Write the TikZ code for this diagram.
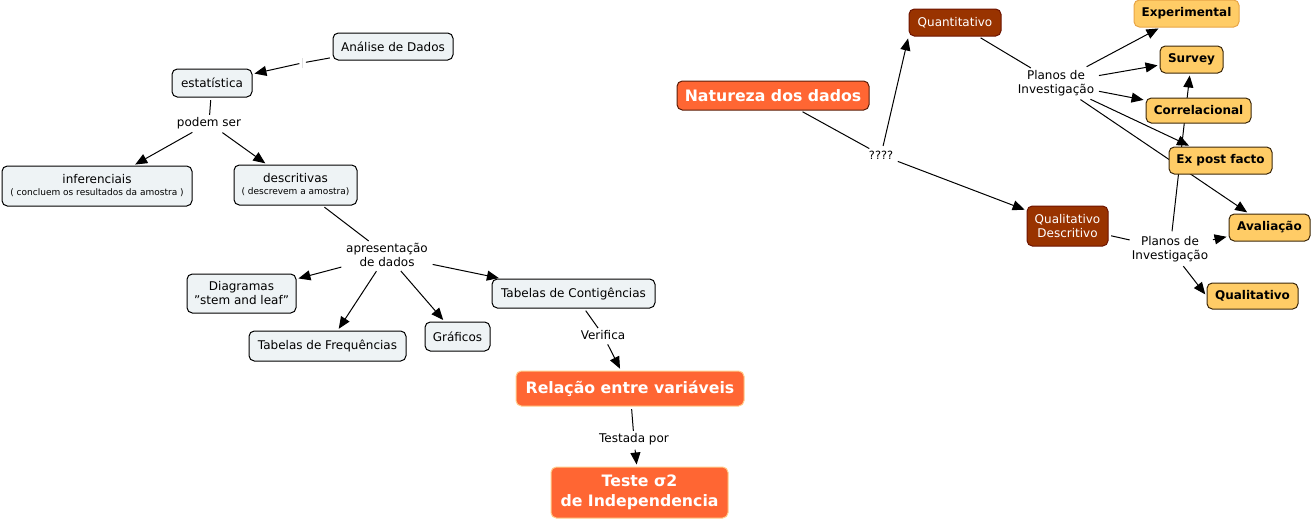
\documentclass[tikz,border=0pt]{standalone}
\usepackage{fontspec}
\setmainfont{DejaVu Sans}
\usetikzlibrary{arrows.meta}
\definecolor{lightc}{RGB}{238,243,245}
\definecolor{orng}{RGB}{255,102,51}
\definecolor{orngb}{RGB}{255,204,140}
\definecolor{natb}{RGB}{90,30,10}
\definecolor{brwn}{RGB}{153,51,0}
\definecolor{brwnb}{RGB}{110,20,0}
\definecolor{yel}{RGB}{255,204,102}
\definecolor{yelb}{RGB}{60,40,10}
\definecolor{expb}{RGB}{232,165,70}
\newcommand\myfs[2]{\fontsize{#1}{#2}\selectfont}
\pgfdeclarelayer{bg}\pgfsetlayers{bg,main}
\begin{document}
\begin{tikzpicture}[x=0.75pt,y=-0.75pt,
  box/.style={rounded corners=4pt, inner sep=0pt, line width=0.75pt, align=center},
  light/.style={box, draw=black, fill=lightc, font=\myfs{9}{10.5}},
  hot/.style={box, draw=orngb, fill=orng, text=white, font=\bfseries\myfs{11.8}{15}},
  dark/.style={box, draw=brwnb, fill=brwn, text=white, font=\myfs{9}{10.5}},
  gold/.style={box, draw=yelb, fill=yel, font=\bfseries\myfs{9}{10.5}},
  lbl/.style={inner sep=1.5pt, align=center, font=\myfs{9}{10.5}},
  conn/.style={line width=0.75pt, shorten <=2pt},
  arr/.style={conn, -{Triangle[length=9pt,width=7.5pt]}, shorten >=1.5pt}]
\useasboundingbox (0,0) rectangle (1312,521);

% left part
\node[light, minimum width=90pt, minimum height=20.25pt] (ana) at (393,46.5) {Análise de Dados};
\node[light, minimum width=60pt, minimum height=21pt] (est) at (212,83) {estatística};
\coordinate (ad) at (302,63);
\node[lbl] (pod) at (209,123) {podem ser};
\node[light, minimum width=142.5pt, minimum height=30pt] (inf) at (97,186) {inferenciais\\[-1.5pt]{\myfs{6.75}{8}( concluem os resultados da amostra )}};
\node[light, minimum width=92.25pt, minimum height=30pt] (des) at (295.5,185) {descritivas\\[-1.5pt]{\myfs{6.75}{8}( descrevem a amostra)}};
\node[lbl] (apr) at (387,255) {apresentação\\de dados};
\node[light, minimum width=81.75pt, minimum height=29.25pt] (dia) at (241.5,293.5) {Diagramas\\\symbol{34}stem and leaf\symbol{34}};
\node[light, minimum width=117.75pt, minimum height=22.5pt] (tfr) at (327.5,346) {Tabelas de Frequências};
\node[light, minimum width=48.75pt, minimum height=21.75pt] (gra) at (457.5,336.5) {Gráficos};
\node[light, minimum width=122.25pt, minimum height=21.75pt] (tco) at (573.5,293.5) {Tabelas de Contigências};
\node[lbl] (ver) at (603,335) {Verifica};
\node[hot, minimum width=171pt, minimum height=26.25pt] (rel) at (630,388.5) {Relação entre variáveis};
\node[lbl] (tes) at (634,439) {Testada por};
\node[hot, minimum width=132.75pt, minimum height=38.25pt] (ind) at (639.5,492.5) {Teste σ2\\de Independencia};

% right part
\node[hot, draw=natb, minimum width=144pt, minimum height=21.75pt] (nat) at (773,95.5) {Natureza dos dados};
\node[dark, minimum width=69pt, minimum height=20.25pt] (qua) at (955,22.5) {Quantitativo};
\node[lbl, font=\myfs{8.5}{10}] (q4) at (881,155) {????};
\node[dark, minimum width=60.75pt, minimum height=30pt] (qde) at (1067.5,226) {Qualitativo\\Descritivo};
\node[lbl] (pl1) at (1056,83) {Planos de\\Investigação};
\node[gold, draw=expb, minimum width=78.75pt, minimum height=20.25pt] (exp) at (1186.5,13.5) {Experimental};
\node[gold, minimum width=47.25pt, minimum height=20.25pt] (sur) at (1191.5,59.5) {Survey};
\node[gold, minimum width=78.75pt, minimum height=18.75pt] (cor) at (1198.5,110.5) {Correlacional};
\node[gold, minimum width=77.25pt, minimum height=20.25pt] (epf) at (1220.5,160.5) {Ex post facto};
\node[gold, minimum width=60.75pt, minimum height=20.25pt] (ava) at (1269.5,227.5) {Avaliação};
\node[lbl] (pl2) at (1170,249) {Planos de\\Investigação};
\node[gold, minimum width=68.25pt, minimum height=19.5pt] (qlt) at (1252.5,296) {Qualitativo};

\begin{pgfonlayer}{bg}
% left connectors
\draw[conn, shorten >=3pt] (ana) -- (ad);
\draw[gray!25, line width=0.6pt] ([yshift=-4pt]ad) -- ([yshift=4pt]ad);
\draw[arr, shorten <=2pt] (ad) -- (est);
\draw[conn] (est) -- (pod);
\draw[arr] (pod) -- (inf);
\draw[arr] (pod) -- (des);
\draw[conn] (des) -- (apr);
\draw[arr] (apr) -- (dia);
\draw[arr] (apr) -- (tfr);
\draw[arr] (apr) -- (gra);
\draw[arr] (apr) -- (tco);
\draw[conn] (tco) -- (ver);
\draw[arr] (ver) -- (rel);
\draw[conn] (rel) -- (tes);
\draw[arr] (tes) -- (ind);
% right connectors
\draw[conn] (nat) -- (q4);
\draw[arr] (q4) -- (qua.south west);
\draw[arr] (q4) -- (qde);
\draw[conn] (qua) -- (pl1);
\draw[arr] (pl1) -- (exp);
\draw[arr] (pl1) -- (sur);
\draw[arr] (pl1) -- (cor);
\draw[arr] (pl1) -- (epf);
\draw[arr] (pl1) -- (ava);
\draw[conn] (qde) -- (pl2);
\draw[arr] (pl2) -- (ava);
\draw[arr] (pl2) -- (qlt.west);
\draw[arr] (pl2) -- (sur);
\end{pgfonlayer}
\end{tikzpicture}
\end{document}
